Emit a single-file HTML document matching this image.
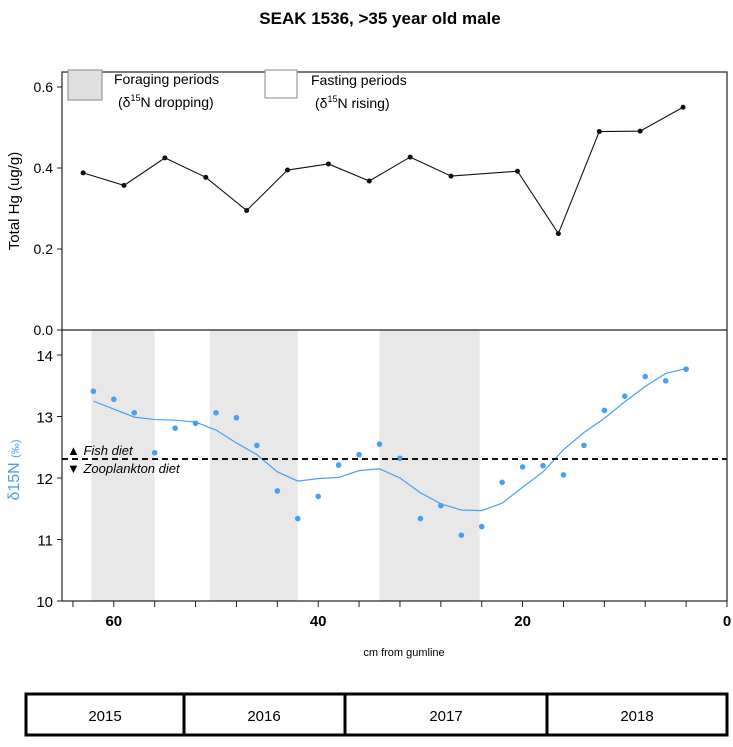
<!DOCTYPE html>
<html><head><meta charset="utf-8"><style>
body{margin:0;background:#fff;width:733px;height:742px;overflow:hidden;font-family:"Liberation Sans",Arial,sans-serif}
</style></head><body>
<svg width="733" height="742" xmlns="http://www.w3.org/2000/svg" font-family="Liberation Sans, Arial, sans-serif">
<text x="380" y="24" text-anchor="middle" font-size="17" font-weight="bold">SEAK 1536, &gt;35 year old male</text>
<g id="bands"></g>
<g id="topPanel"></g>
<g id="botPanel"></g>
<rect x="62" y="72" width="665" height="529" fill="none" stroke="#222" stroke-width="1.2"/>
<line x1="62" y1="330" x2="727" y2="330" stroke="#222" stroke-width="1.2"/>
<g>
<rect x="68" y="70" width="34" height="30" fill="#e0e0e0" stroke="#888"/>
<text x="114" y="84" font-size="14">Foraging periods</text>
<text x="118" y="107" font-size="14">(δ<tspan dy="-6" font-size="9">15</tspan><tspan dy="6">N dropping)</tspan></text>
<rect x="265" y="70" width="32" height="28" fill="#fff" stroke="#888"/>
<text x="311" y="85" font-size="14">Fasting periods</text>
<text x="315" y="108" font-size="14">(δ<tspan dy="-6" font-size="9">15</tspan><tspan dy="6">N rising)</tspan></text>
</g>
<text transform="translate(19,201) rotate(-90)" text-anchor="middle" font-size="15">Total Hg (ug/g)</text>
<text transform="translate(19,470) rotate(-90)" text-anchor="middle" font-size="16" fill="#4a9ff0">δ15N <tspan font-size="11">(‰)</tspan></text>
<line x1="62" y1="459" x2="727" y2="459" stroke="#111" stroke-width="2" stroke-dasharray="6,4"/>
<text x="67" y="455" font-size="13" font-style="italic">▲ Fish diet</text>
<text x="67" y="473" font-size="13" font-style="italic">▼ Zooplankton diet</text>
<text x="404" y="656" text-anchor="middle" font-size="11">cm from gumline</text>
<g>
<rect x="26" y="694" width="701" height="41" fill="none" stroke="#000" stroke-width="3"/>
<line x1="184" y1="694" x2="184" y2="735" stroke="#000" stroke-width="3"/>
<line x1="345" y1="694" x2="345" y2="735" stroke="#000" stroke-width="3"/>
<line x1="547" y1="694" x2="547" y2="735" stroke="#000" stroke-width="3"/>
<text x="105" y="721" text-anchor="middle" font-size="15">2015</text>
<text x="264" y="721" text-anchor="middle" font-size="15">2016</text>
<text x="446" y="721" text-anchor="middle" font-size="15">2017</text>
<text x="637" y="721" text-anchor="middle" font-size="15">2018</text>
</g>
</svg>
<script>
const hgCm=[63,59,55,51,47,43,39,35,31,27,20.5,16.5,12.5,8.5,4.3];
const hgVals=[0.388,0.357,0.425,0.377,0.295,0.395,0.41,0.368,0.427,0.38,0.392,0.238,0.49,0.491,0.55];
const nCm=[62,60,58,56,54,52,50,48,46,44,42,40,38,36,34,32,30,28,26,24,22,20,18,16,14,12,10,8,6,4];
const nVals=[13.41,13.28,13.06,12.41,12.81,12.89,13.06,12.98,12.53,11.79,11.34,11.70,12.21,12.38,12.55,12.32,11.34,11.55,11.07,11.21,11.93,12.18,12.20,12.05,12.53,13.10,13.33,13.65,13.58,13.77];
const smoothVals=[13.25,13.12,12.99,12.95,12.94,12.91,12.78,12.57,12.38,12.10,11.95,11.99,12.01,12.12,12.15,12.0,11.76,11.58,11.48,11.47,11.59,11.85,12.10,12.46,12.74,12.97,13.24,13.49,13.70,13.78];
const bandStart=[62.2,50.6,34];
const bandEnd=[56,42,24.2];
const hgTicks=[0,0.2,0.4,0.6];
const nTicks=[10,11,12,13,14];
const xLabels=[60,40,20,0];
const NS="http://www.w3.org/2000/svg";
const X=c=>727-c*10.22;
const YH=v=>330-v*405;
const YN=v=>355+(14-v)*61.5;
function mk(p,t,a){const e=document.createElementNS(NS,t);for(const k in a)e.setAttribute(k,a[k]);p.appendChild(e);return e;}
const gBands=document.getElementById('bands'),gTop=document.getElementById('topPanel'),gBot=document.getElementById('botPanel');
bandStart.forEach((s,i)=>{const r=mk(gBands,'rect',{x:X(s),y:330,width:X(bandEnd[i])-X(s),height:271,fill:'#e8e8e8'});

});
hgTicks.forEach(v=>{mk(gTop,'line',{x1:57,x2:62,y1:YH(v),y2:YH(v),stroke:'#222'});
const t=mk(gTop,'text',{x:53,y:YH(v)+5,'text-anchor':'end','font-size':14});t.textContent=v.toFixed(1);

});
nTicks.forEach(v=>{mk(gBot,'line',{x1:57,x2:62,y1:YN(v),y2:YN(v),stroke:'#222'});
const t=mk(gBot,'text',{x:53,y:YN(v)+6,'text-anchor':'end','font-size':15});t.textContent=v;

});
for(let c=0;c<=64;c+=4){mk(gBot,'line',{x1:X(c),x2:X(c),y1:601,y2:607,stroke:'#222'});}
xLabels.forEach(c=>{const t=mk(gBot,'text',{x:X(c),y:626,'text-anchor':'middle','font-size':15,'font-weight':'bold'});t.textContent=c;

});
const hl=mk(gTop,'polyline',{points:hgCm.map((c,i)=>X(c)+','+YH(hgVals[i])).join(' '),fill:'none',stroke:'#111','stroke-width':1.1});


hgCm.forEach((c,i)=>{const d=mk(gTop,'circle',{cx:X(c),cy:YH(hgVals[i]),r:2.5,fill:'#111'});

});
const sl=mk(gBot,'polyline',{points:nCm.map((c,i)=>X(c)+','+YN(smoothVals[i])).join(' '),fill:'none',stroke:'#4a9ff0','stroke-width':1.2});


nCm.forEach((c,i)=>{const d=mk(gBot,'circle',{cx:X(c),cy:YN(nVals[i]),r:2.8,fill:'#4a9ff0'});

});
</script>
</body></html>
